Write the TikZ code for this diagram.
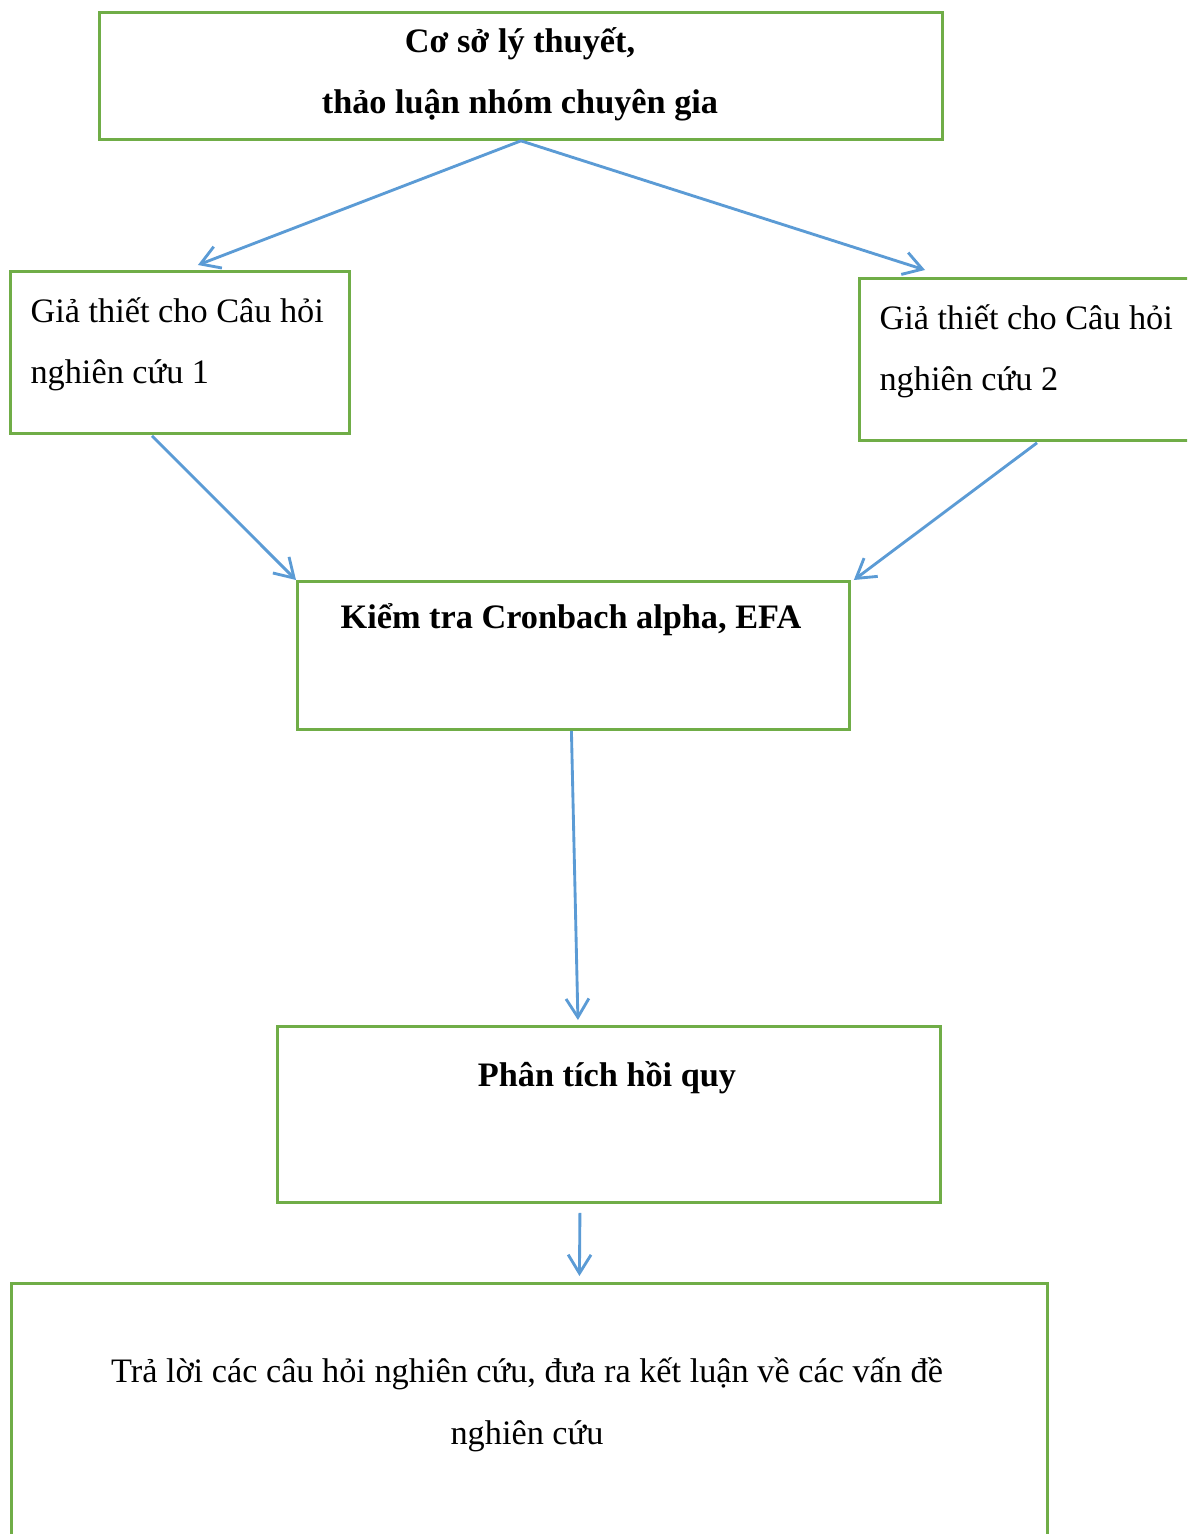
\documentclass[tikz,border=0pt]{standalone}
\usepackage{fontspec}
\setmainfont{Liberation Serif}
\usetikzlibrary{arrows.meta,calc}
\definecolor{boxgreen}{HTML}{70AD47}
\definecolor{flowblue}{HTML}{5B9BD5}

\begin{document}
\begin{tikzpicture}[
  x=0.35pt, y=-0.35pt,
  box/.style={draw=boxgreen, line width=1pt, inner sep=0pt, anchor=north west},
  txt/.style={inner sep=0pt, font=\fontsize{12}{21.5}\selectfont},
  btxt/.style={inner sep=0pt, font=\fontsize{12}{21.5}\selectfont\bfseries},
  flow/.style={draw=flowblue, line width=1pt, -{Straight Barb[length=6.5pt,width=8pt]}},
]
\useasboundingbox (0,0) rectangle (1187,1534);
\clip (0,0) rectangle (1187,1534);

\node [box, minimum width=295.05pt, minimum height=44.45pt] (top) at (98,11) {};
\node [box, minimum width=118.65pt, minimum height=56.7pt] (h1) at (9,270) {};
\node [box, minimum width=140pt, minimum height=56.7pt] (h2) at (858,277) {};
\node [box, minimum width=193.2pt, minimum height=51.8pt] (test) at (296,580) {};
\node [box, minimum width=232.05pt, minimum height=61.6pt] (reg) at (276,1025) {};
\node [box, minimum width=362.6pt, minimum height=112pt] (ans) at (10,1282) {};

% base anchor sits on the last line
\node [btxt, align=center, anchor=base] (toptxt) at (520,114) {Cơ sở lý thuyết,\\thảo luận nhóm chuyên gia};
\node [txt, align=left, anchor=base west] (h1txt) at (30,384) {Giả thiết cho Câu hỏi\\nghiên cứu 1};
\node [txt, align=left, anchor=base west] (h2txt) at (879,391) {Giả thiết cho Câu hỏi\\nghiên cứu 2};
\node [btxt, anchor=base] (testtxt) at (571,628) {Kiểm tra Cronbach alpha, EFA};
\node [btxt, anchor=base] (regtxt) at (607,1086) {Phân tích hồi quy};
\node [txt, align=center, anchor=base] (anstxt) at (527,1444) {Trả lời các câu hỏi nghiên cứu, đưa ra kết luận về các vấn đề\\nghiên cứu};

\draw [flow] (top.south) -- ($(h1.north)+(18,-5)$);
\draw [flow] (top.south) -- ($(h2.north west)+(67,-7)$);
\draw [flow] ($(h1.south)+(-28,1)$) -- (test.north west);
\draw [flow] ($(h2.south west)+(179,1)$) -- ($(test.north east)+(3,0)$);
\draw [flow] ($(test.south)+(-2,0)$) -- ($(reg.north)+(-31,-5)$);
\draw [flow] ($(reg.south)+(-29,9)$) -- ($(ans.north)+(50,-6)$);

\end{tikzpicture}
\end{document}
